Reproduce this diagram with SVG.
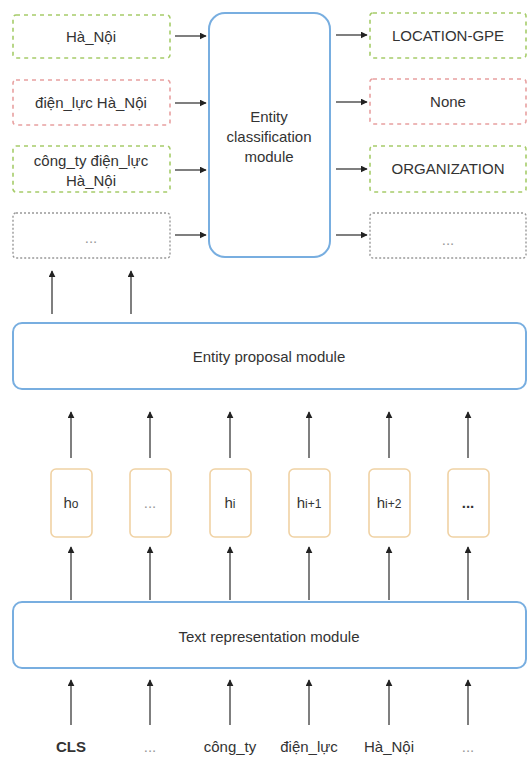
<svg xmlns="http://www.w3.org/2000/svg" width="529" height="760" viewBox="0 0 529 760">
<style>
text{font-family:"Liberation Sans",Arial,sans-serif;fill:#333;text-anchor:middle}
.t{font-size:15px}
.mu{fill:#999}
.g{fill:#fff;stroke:#a6cc6a;stroke-width:1.6;stroke-dasharray:4 4}
.r{fill:#fff;stroke:#e8a0a0;stroke-width:1.6;stroke-dasharray:4 4}
.d{fill:#fff;stroke:#999;stroke-width:1.4;stroke-dasharray:2 2}
.m{fill:#fff;stroke:#78aee0;stroke-width:2}
.h{fill:#fff;stroke:#f0d2a4;stroke-width:1.6}
.c line{stroke:#555;stroke-width:1.5;marker-end:url(#a)}
</style>
<defs>
<marker id="a" viewBox="0 0 10 10" refX="9" refY="5" markerWidth="7" markerHeight="7" markerUnits="userSpaceOnUse" orient="auto">
<path d="M0,0 L10,5 L0,10 z" fill="#222"/>
</marker>
</defs>
<rect width="529" height="760" fill="#fff"/>
<g id="cands">
<g id="c1"><rect class="g" x="13" y="15" width="157" height="43" rx="3"/><text class="t" x="91" y="42">Hà_Nội</text></g>
<g id="c2"><rect class="r" x="13" y="80" width="157" height="45" rx="3"/><text class="t" x="91" y="108">điện_lực Hà_Nội</text></g>
<g id="c3"><rect class="g" x="13" y="146" width="157" height="46" rx="3"/><text class="t" x="91" y="166">công_ty điện_lực</text><text class="t" x="91" y="186">Hà_Nội</text></g>
<g id="c4"><rect class="d" x="13" y="213" width="157" height="45" rx="3"/><text class="t mu" x="91" y="243">...</text></g>
</g>
<g id="classifier"><rect class="m" x="209" y="13" width="121" height="244" rx="16"/>
<text class="t" x="269" y="122">Entity</text><text class="t" x="269" y="142">classification</text><text class="t" x="269" y="162">module</text></g>
<g id="outs">
<g id="o1"><rect class="g" x="370" y="13" width="156" height="45" rx="3"/><text class="t" x="448" y="41">LOCATION-GPE</text></g>
<g id="o2"><rect class="r" x="370" y="79" width="156" height="45" rx="3"/><text class="t" x="448" y="107">None</text></g>
<g id="o3"><rect class="g" x="370" y="146" width="156" height="46" rx="3"/><text class="t" x="448" y="174">ORGANIZATION</text></g>
<g id="o4"><rect class="d" x="370" y="213" width="156" height="45" rx="3"/><text class="t mu" x="448" y="245">...</text></g>
</g>
<g id="proposal"><rect class="m" x="13" y="323" width="513" height="66" rx="9"/><text class="t" x="269" y="362">Entity proposal module</text></g>
<g id="hs">
<g id="h0"><rect class="h" x="51" y="469" width="41" height="68" rx="5"/><text class="t" x="71" y="508">h<tspan font-size="12">o</tspan></text></g>
<g id="h1"><rect class="h" x="130" y="469" width="41" height="68" rx="5"/><text class="t mu" x="150" y="508">...</text></g>
<g id="h2"><rect class="h" x="210" y="469" width="41" height="68" rx="5"/><text class="t" x="230" y="508">h<tspan font-size="12">i</tspan></text></g>
<g id="h3"><rect class="h" x="289" y="469" width="41" height="68" rx="5"/><text class="t" x="309" y="508">h<tspan font-size="12">i+1</tspan></text></g>
<g id="h4"><rect class="h" x="369" y="469" width="41" height="68" rx="5"/><text class="t" x="389" y="508">h<tspan font-size="12">i+2</tspan></text></g>
<g id="h5"><rect class="h" x="448" y="469" width="41" height="68" rx="5"/><text class="t" x="468" y="508" font-weight="bold">...</text></g>
</g>
<g id="textrep"><rect class="m" x="13" y="602" width="513" height="66" rx="9"/><text class="t" x="269" y="642">Text representation module</text></g>
<g id="tokens">
<text class="t" x="71" y="752" font-weight="bold">CLS</text>
<text class="t mu" x="150" y="752">...</text>
<text class="t" x="230" y="752">công_ty</text>
<text class="t" x="309" y="752">điện_lực</text>
<text class="t" x="389" y="752">Hà_Nội</text>
<text class="t mu" x="468" y="752">...</text>
</g>
<g id="connectors" class="c">
<line x1="175" y1="36" x2="206" y2="36"/>
<line x1="175" y1="103" x2="206" y2="103"/>
<line x1="175" y1="170" x2="206" y2="170"/>
<line x1="175" y1="235" x2="206" y2="235"/>
<line x1="336" y1="35" x2="367" y2="35"/>
<line x1="336" y1="102" x2="367" y2="102"/>
<line x1="336" y1="169" x2="367" y2="169"/>
<line x1="336" y1="235" x2="367" y2="235"/>
<line x1="52" y1="314" x2="52" y2="271"/>
<line x1="131" y1="314" x2="131" y2="271"/>
<line x1="71" y1="458" x2="71" y2="412"/>
<line x1="150" y1="458" x2="150" y2="412"/>
<line x1="230" y1="458" x2="230" y2="412"/>
<line x1="309" y1="458" x2="309" y2="412"/>
<line x1="389" y1="458" x2="389" y2="412"/>
<line x1="468" y1="458" x2="468" y2="412"/>
<line x1="71" y1="600" x2="71" y2="547"/>
<line x1="150" y1="600" x2="150" y2="547"/>
<line x1="230" y1="600" x2="230" y2="547"/>
<line x1="309" y1="600" x2="309" y2="547"/>
<line x1="389" y1="600" x2="389" y2="547"/>
<line x1="468" y1="600" x2="468" y2="547"/>
<line x1="71" y1="725" x2="71" y2="680"/>
<line x1="150" y1="725" x2="150" y2="680"/>
<line x1="230" y1="725" x2="230" y2="680"/>
<line x1="309" y1="725" x2="309" y2="680"/>
<line x1="389" y1="725" x2="389" y2="680"/>
<line x1="468" y1="725" x2="468" y2="680"/>
</g>
</svg>
